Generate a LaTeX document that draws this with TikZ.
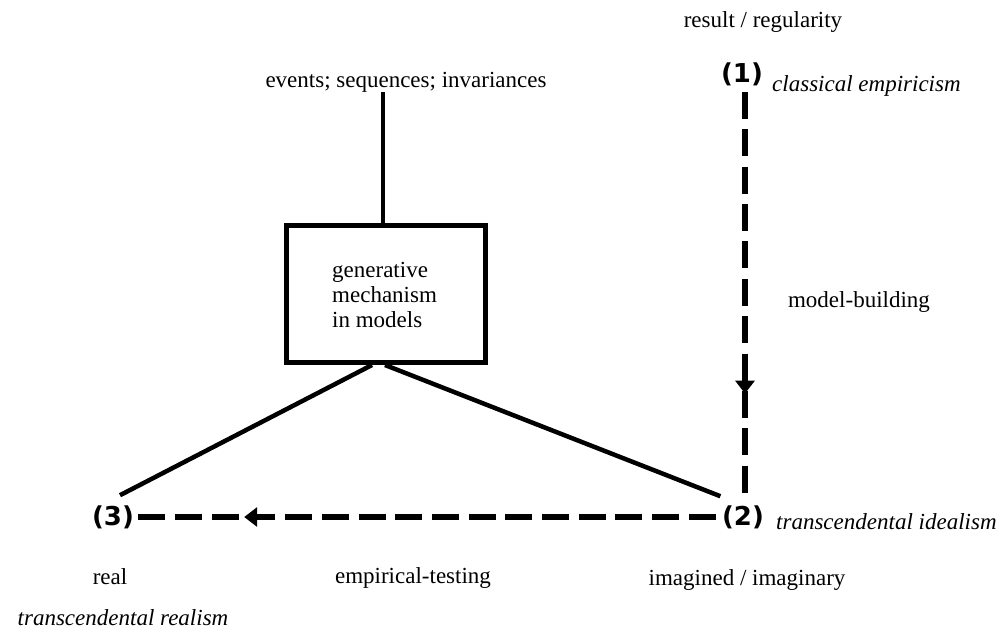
\documentclass[tikz,border=0pt]{standalone}
\usepackage{fontspec}
\setmainfont{Liberation Serif}
\newfontfamily\numfont{DejaVu Sans}
\usetikzlibrary{decorations.markings,arrows.meta}
\begin{document}
\begin{tikzpicture}[x=1pt,y=-1pt,
  lbl/.style={font=\fontsize{23}{25}\selectfont, inner sep=0pt},
  school/.style={font=\fontsize{23}{25}\selectfont\itshape, inner sep=0pt, anchor=west},
  num/.style={font=\numfont\bfseries\fontsize{26}{28}\selectfont, inner sep=0pt},
  solidline/.style={line width=4.5pt},
  dashline/.style={line width=6pt, dash pattern=on 27pt off #1},
  midarrow/.style={postaction={decorate, decoration={markings,
      mark=at position #1 with {\arrow{Triangle[length=13pt,width=19pt]}}}}}
]
\useasboundingbox (0,0) rectangle (1004,630);

% stage markers
\node[num] (n1) at (742,74) {(1)};
\node[num] (n2) at (743,517) {(2)};
\node[num] (n3) at (113,517) {(3)};

% labels around the markers
\node[lbl] (res) at (763,22) {result / regularity};
\node[school] (ce) at (772,86) {classical empiricism};
\node[school] (ti) at (776,522) {transcendental idealism};
\node[lbl] (mb) at (859,302) {model-building};
\node[lbl] (real) at (110,577) {real};
\node[lbl] (et) at (413,578) {empirical-testing};
\node[lbl] (im) at (747,580) {imagined / imaginary};
\node[school, anchor=base] (tr) at (123,625) {transcendental realism};

% generative mechanism box
\node[lbl] (ev) at (406,82) {events; sequences; invariances};
\node[draw, line width=5pt, minimum width=199pt, minimum height=137pt, inner sep=0pt] (box) at (386,294) {};
\node[lbl, align=left, anchor=north west, font=\fontsize{23}{25}\selectfont] (gm) at (332,262) {generative\\mechanism\\in models};

\coordinate (stem) at ([xshift=-3pt]box.north);
\draw[solidline] (stem) -- (stem |- ev.south);
\draw[solidline] ([xshift=-14pt]box.south) -- ([shift={(7,-10)}]n3.north);
\draw[solidline] ([xshift=-1pt]box.south) -- ([shift={(-1.5,-9)}]n2.north west);

% dashed transitions
\draw[dashline=10.4pt, midarrow=0.75] ([shift={(3,6)}]n1.south) -- ([shift={(2,-11)}]n2.north);
\draw[dashline=9.7pt, midarrow=0.815] ([xshift=-6pt]n2.west) -- ([xshift=3pt]n3.east);
\end{tikzpicture}
\end{document}
